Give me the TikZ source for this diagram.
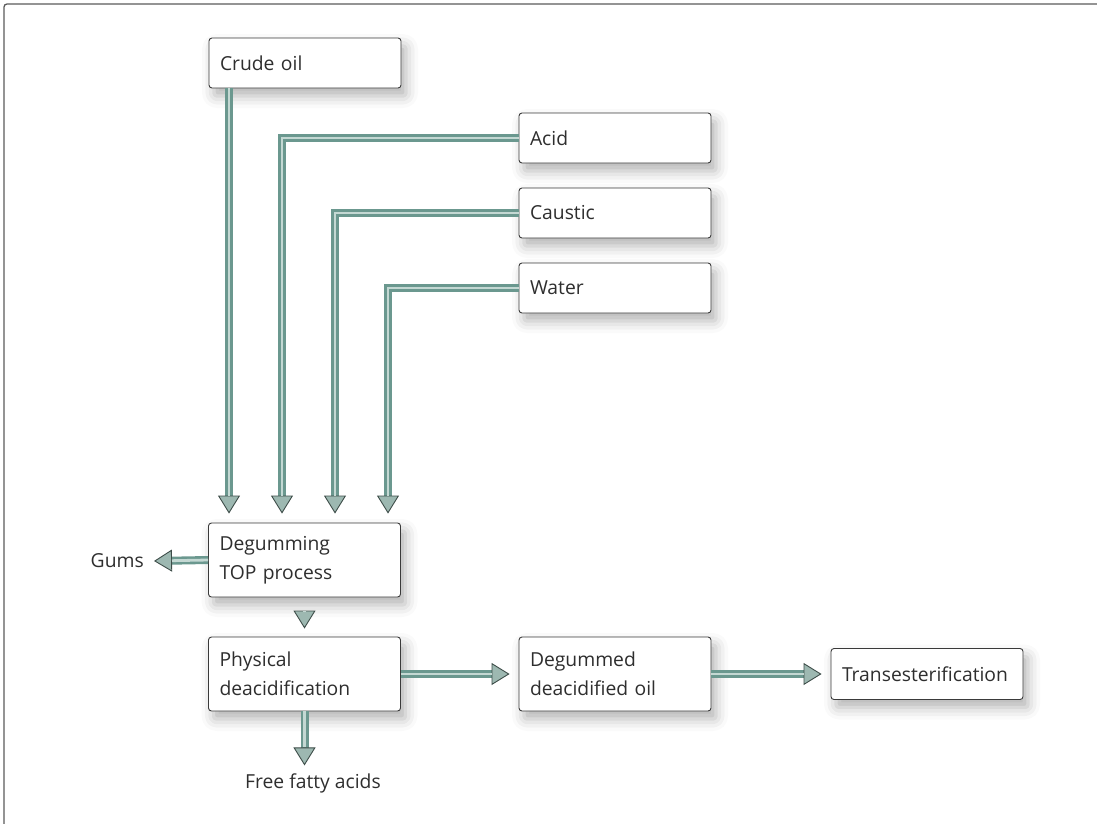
\documentclass[tikz,border=0pt]{standalone}
\usepackage{fontspec}
\setmainfont{Open Sans}
\usetikzlibrary{arrows.meta,shadows.blur}
\definecolor{pipedark}{HTML}{6B988F}
\definecolor{pipelight}{HTML}{C4D8D3}
\definecolor{headfill}{HTML}{9DB8B1}
\definecolor{headline}{HTML}{3E4D49}
\definecolor{boxline}{HTML}{3A3A3A}
\definecolor{textc}{HTML}{2E2E2E}
\definecolor{framec}{HTML}{5A5A5A}
\begin{document}
\begin{tikzpicture}[x=1pt,y=-1pt,
  box/.style={draw=boxline, line width=0.9pt, rounded corners=3pt, fill=white,
    minimum width=192pt, text width=170pt, inner xsep=11pt, inner ysep=0pt, align=left,
    font=\fontsize{19.3}{29}\selectfont, text=textc,
    blur shadow={shadow xshift=5pt, shadow yshift=-8pt, shadow blur radius=12pt, shadow opacity=30}},
  lbl/.style={font=\fontsize{19.3}{29}\selectfont, text=textc, inner sep=0pt},
  pipe/.style={line width=8pt, draw=pipedark, line join=miter,
    -{Triangle[length=18pt,width=22pt,fill=headfill,color=headline,line width=0.9pt]},
    postaction={draw=pipelight, line width=2.8pt, -, shorten >=18pt}}]
\useasboundingbox (0,0) rectangle (1097,823);
\begin{scope}
\clip (0,0) rectangle (1097,823);
\draw[framec, line width=1.3pt, rounded corners=3pt] (4,4) rectangle (1130,840);
\end{scope}

\node[box, minimum height=50pt] (crude) at (305,63) {Crude oil};
\node[box, minimum height=50pt] (acid) at (615,138) {Acid};
\node[box, minimum height=50pt] (caustic) at (615,213) {Caustic};
\node[box, minimum height=50pt] (water) at (615,288) {Water};
\node[box, minimum height=74pt] (deg) at (304.5,560) {Degumming\\TOP process};
\node[box, minimum height=74pt] (phys) at (304.5,674) {Physical\\deacidification};
\node[box, minimum height=74pt] (oil) at (615,674) {Degummed\\deacidified oil};
\node[box, minimum height=51pt] (trans) at (927,674) {Transesterification};
\node[lbl, anchor=east] (gums) at (144,561) {Gums};
\node[lbl] (ffa) at (313,783) {Free fatty acids};

\draw[pipe] ([xshift=-76pt]crude.south) -- ([xshift=-75.5pt,yshift=9pt]deg.north);
\draw[pipe] (acid.west) -| ([xshift=-22.5pt,yshift=9pt]deg.north);
\draw[pipe] (caustic.west) -| ([xshift=30.5pt,yshift=9pt]deg.north);
\draw[pipe] (water.west) -| ([xshift=83.5pt,yshift=9pt]deg.north);
\draw[pipe] (deg.west) -- ([xshift=10pt]gums.east);
\draw[pipe] ([yshift=-14pt]deg.south) -- ([yshift=8pt]phys.north);
\draw[pipe] (phys.east) -- ([xshift=-9pt]oil.west);
\draw[pipe] (oil.east) -- ([xshift=-9pt]trans.west);
\draw[pipe] (phys.south) -- ([yshift=-54pt]phys.south);
\end{tikzpicture}
\end{document}
